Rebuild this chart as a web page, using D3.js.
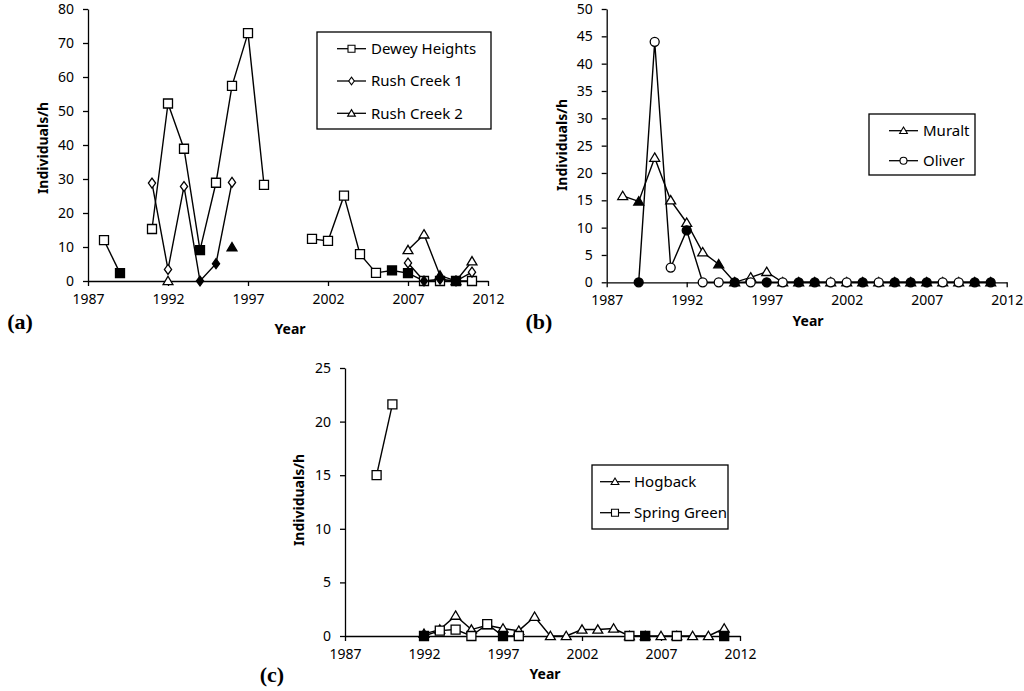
<!DOCTYPE html>
<html>
<head>
<meta charset="utf-8">
<script src="https://cdn.jsdelivr.net/npm/d3@7"></script>
<style>
  html, body { margin: 0; padding: 0; background: #fff; }
  svg text { font-family: "Noto Sans", "Open Sans", sans-serif; fill: #000; }
</style>
</head>
<body>
<div id="chart"></div>
<script>
// -----------------------------
// Data
// -----------------------------
const xTicks = [1987, 1992, 1997, 2002, 2007, 2012];

// (a)
const deweyYears  = [1988, 1989, 1991, 1992, 1993, 1994, 1995, 1996, 1997, 1998, 2001, 2002, 2003, 2004, 2005, 2006, 2007, 2008, 2009, 2010, 2011];
const deweyValues = [12, 2.3, 15.3, 52.2, 38.9, 9.1, 28.9, 57.4, 72.9, 28.3, 12.4, 11.8, 25.1, 7.9, 2.4, 3.1, 2.3, 0, 0, 0, 0];
const deweyFilled = [0, 1, 0, 0, 0, 1, 0, 0, 0, 0, 0, 0, 0, 0, 0, 1, 1, 0, 0, 1, 0];

const rush1Years  = [1991, 1992, 1993, 1994, 1995, 1996, 2007, 2008, 2009, 2010, 2011];
const rush1Values = [28.8, 3.4, 27.8, 0, 5.1, 29, 5.3, 0, 0.5, 0, 2.6];
const rush1Filled = [0, 0, 0, 1, 1, 0, 0, 1, 1, 1, 0];

const rush2Years  = [1992, 1996, 2007, 2008, 2009, 2010, 2011];
const rush2Values = [0, 9.9, 9.1, 13.7, 1.6, 0, 5.8];
const rush2Filled = [0, 1, 0, 0, 1, 1, 0];

// (b)
const muraltYears  = [1988, 1989, 1990, 1991, 1992, 1993, 1994, 1995, 1996, 1997, 1998, 1999, 2000, 2001, 2002, 2003, 2004, 2005, 2006, 2007, 2008, 2009, 2010, 2011];
const muraltValues = [15.8, 14.8, 22.8, 15, 10.9, 5.5, 3.3, 0, 0.9, 1.9, 0, 0, 0, 0, 0, 0, 0, 0, 0, 0, 0, 0, 0, 0];
const muraltFilled = [0, 1, 0, 0, 0, 0, 1, 1, 0, 0, 0, 1, 1, 0, 0, 1, 0, 1, 1, 1, 0, 0, 1, 1];

const oliverYears  = [1989, 1990, 1991, 1992, 1993, 1994, 1995, 1996, 1997, 1998, 1999, 2000, 2001, 2002, 2003, 2004, 2005, 2006, 2007, 2008, 2009, 2010, 2011];
const oliverValues = [0, 44, 2.7, 9.5, 0, 0, 0, 0, 0, 0, 0, 0, 0, 0, 0, 0, 0, 0, 0, 0, 0, 0, 0];
const oliverFilled = [1, 0, 0, 1, 0, 0, 1, 0, 1, 0, 1, 1, 0, 0, 1, 0, 1, 1, 1, 0, 0, 1, 1];

// (c)
const hogbackYears  = [1992, 1993, 1994, 1995, 1996, 1997, 1998, 1999, 2000, 2001, 2002, 2003, 2004, 2005, 2006, 2007, 2008, 2009, 2010, 2011];
const hogbackValues = [0.2, 0.6, 1.9, 0.6, 1.0, 0.7, 0.5, 1.8, 0, 0, 0.6, 0.6, 0.7, 0, 0, 0, 0, 0, 0, 0.7];
const hogbackFilled = [1, 0, 0, 0, 0, 0, 0, 0, 0, 0, 0, 0, 0, 0, 1, 0, 0, 0, 0, 0];

const springYears  = [1989, 1990, 1992, 1993, 1994, 1995, 1996, 1997, 1998, 2005, 2006, 2008, 2011];
const springValues = [15, 21.6, 0, 0.5, 0.6, 0, 1.1, 0, 0, 0, 0, 0, 0];
const springFilled = [0, 0, 1, 0, 0, 0, 0, 1, 0, 0, 1, 0, 1];

const zip = (ys, vs, fs) => ys.map((y, i) => ({ year: y, value: vs[i], filled: !!fs[i] }));

// -----------------------------
// Panel layout
// -----------------------------
const panels = [
  {
    key: "a", x0: 88, x1: 488, yZero: 281, yTop: 9, yMax: 80,
    yTicks: [0, 10, 20, 30, 40, 50, 60, 70, 80],
    label: { x: 20, y: 329 }, yearLabel: { x: 290, y: 334 }, yTitle: { x: 48, y: 148 },
    legend: { x: 317, y: 32, w: 174, h: 97, rows: [48.7, 81, 113.3], lx0: 337, lx1: 366, tx: 371 },
    series: [
      { name: "Dewey Heights", shape: "square", data: zip(deweyYears, deweyValues, deweyFilled) },
      { name: "Rush Creek 1", shape: "diamond", data: zip(rush1Years, rush1Values, rush1Filled) },
      { name: "Rush Creek 2", shape: "triangle", data: zip(rush2Years, rush2Values, rush2Filled) }
    ]
  },
  {
    key: "b", x0: 606.7, x1: 1006.7, yZero: 282.3, yTop: 9, yMax: 50,
    yTicks: [0, 5, 10, 15, 20, 25, 30, 35, 40, 45, 50],
    label: { x: 539, y: 329 }, yearLabel: { x: 808, y: 326 }, yTitle: { x: 567, y: 145 },
    legend: { x: 869, y: 114, w: 106, h: 61, rows: [130.7, 160.7], lx0: 889, lx1: 918, tx: 923 },
    series: [
      { name: "Muralt", shape: "triangle", data: zip(muraltYears, muraltValues, muraltFilled) },
      { name: "Oliver", shape: "circle", data: zip(oliverYears, oliverValues, oliverFilled) }
    ]
  },
  {
    key: "c", x0: 345, x1: 740, yZero: 636, yTop: 368, yMax: 25,
    yTicks: [0, 5, 10, 15, 20, 25],
    label: { x: 272, y: 682 }, yearLabel: { x: 545, y: 679 }, yTitle: { x: 304, y: 500 },
    legend: { x: 592, y: 465, w: 136, h: 64, rows: [481.7, 512.7], lx0: 600, lx1: 630, tx: 634 },
    series: [
      { name: "Hogback", shape: "triangle", data: zip(hogbackYears, hogbackValues, hogbackFilled) },
      { name: "Spring Green", shape: "square", data: zip(springYears, springValues, springFilled) }
    ]
  }
];

// -----------------------------
// SVG
// -----------------------------
const W = 1024, H = 691;
const svg = d3.select("#chart").append("svg")
  .attr("width", W).attr("height", H);

const symbolPath = (shape, size) => {
  const s = size / 2;
  if (shape === "square") return `M${-s},${-s}h${size}v${size}h${-size}Z`;
  if (shape === "diamond") return `M0,${-s * 1.1}L${s * 0.8},0L0,${s * 1.1}L${-s * 0.8},0Z`;
  if (shape === "triangle") return `M0,${-s * 1.05}L${s * 1.1},${s * 0.8}L${-s * 1.1},${s * 0.8}Z`;
  // circle
  return `M${-s},0A${s},${s} 0 1,0 ${s},0A${s},${s} 0 1,0 ${-s},0Z`;
};

panels.forEach(p => {
  const g = svg.append("g").attr("class", "panel-" + p.key);

  const x = d3.scaleLinear().domain([1987, 2012]).range([p.x0, p.x1]);
  const y = d3.scaleLinear().domain([0, p.yMax]).range([p.yZero, p.yTop]);

  // axes
  const xAxis = d3.axisBottom(x).tickValues(xTicks).tickFormat(d3.format("d"))
    .tickSizeInner(5).tickSizeOuter(0).tickPadding(8);
  const yAxis = d3.axisLeft(y).tickValues(p.yTicks).tickFormat(d3.format("d"))
    .tickSizeInner(5).tickSizeOuter(0).tickPadding(9);

  const gx = g.append("g").attr("transform", `translate(0,${p.yZero})`).call(xAxis);
  const gy = g.append("g").attr("transform", `translate(${p.x0},0)`).call(yAxis);
  [gx, gy].forEach(a => {
    a.selectAll("path, line").attr("stroke", "#000").attr("stroke-width", 1.3);
    a.selectAll("text").style("font-size", "14px")
      .style("font-family", '"Noto Sans", sans-serif').attr("fill", "#000");
  });

  // lines: connect consecutive years only
  const line = d3.line()
    .defined(d => d.value != null)
    .x(d => x(d.year)).y(d => y(d.value));

  p.series.forEach(s => {
    const segs = [];
    let cur = [];
    s.data.forEach((d, i) => {
      if (i > 0 && d.year - s.data[i - 1].year > 1) { segs.push(cur); cur = []; }
      cur.push(d);
    });
    segs.push(cur);
    segs.filter(seg => seg.length > 1).forEach(seg => {
      g.append("path").attr("d", line(seg))
        .attr("fill", "none").attr("stroke", "#000").attr("stroke-width", 1.4);
    });
  });

  // markers
  p.series.forEach(s => {
    g.selectAll(null).data(s.data).join("path")
      .attr("transform", d => `translate(${x(d.year)},${y(d.value)})`)
      .attr("d", symbolPath(s.shape, 9))
      .attr("fill", d => d.filled ? "#000" : "#fff")
      .attr("stroke", "#000").attr("stroke-width", 1.3);
  });

  // axis titles
  g.append("text")
    .attr("x", p.yearLabel.x).attr("y", p.yearLabel.y)
    .attr("text-anchor", "middle")
    .style("font-size", "14px").style("font-weight", "bold")
    .text("Year");

  g.append("text")
    .attr("transform", `translate(${p.yTitle.x},${p.yTitle.y}) rotate(-90)`)
    .attr("text-anchor", "middle")
    .style("font-size", "14px").style("font-weight", "bold")
    .text("Individuals/h");

  // panel label
  g.append("text")
    .attr("x", p.label.x).attr("y", p.label.y)
    .attr("text-anchor", "middle")
    .style("font-family", '"Liberation Serif", "DejaVu Serif", serif')
    .style("font-size", "22px").style("font-weight", "bold")
    .text(`(${p.key})`);

  // legend
  const L = p.legend;
  const lg = g.append("g").attr("class", "legend");
  lg.append("rect")
    .attr("x", L.x).attr("y", L.y).attr("width", L.w).attr("height", L.h)
    .attr("fill", "#fff").attr("stroke", "#000").attr("stroke-width", 1.3);

  p.series.forEach((s, i) => {
    const ry = L.rows[i];
    lg.append("line")
      .attr("x1", L.lx0).attr("x2", L.lx1).attr("y1", ry).attr("y2", ry)
      .attr("stroke", "#000").attr("stroke-width", 1.3);
    lg.append("path")
      .attr("transform", `translate(${(L.lx0 + L.lx1) / 2},${ry})`)
      .attr("d", symbolPath(s.shape, 7))
      .attr("fill", "#fff").attr("stroke", "#000").attr("stroke-width", 1.1);
    lg.append("text")
      .attr("x", L.tx).attr("y", ry).attr("dy", "0.35em")
      .style("font-size", "15px")
      .text(s.name);
  });
});
</script>
</body>
</html>
